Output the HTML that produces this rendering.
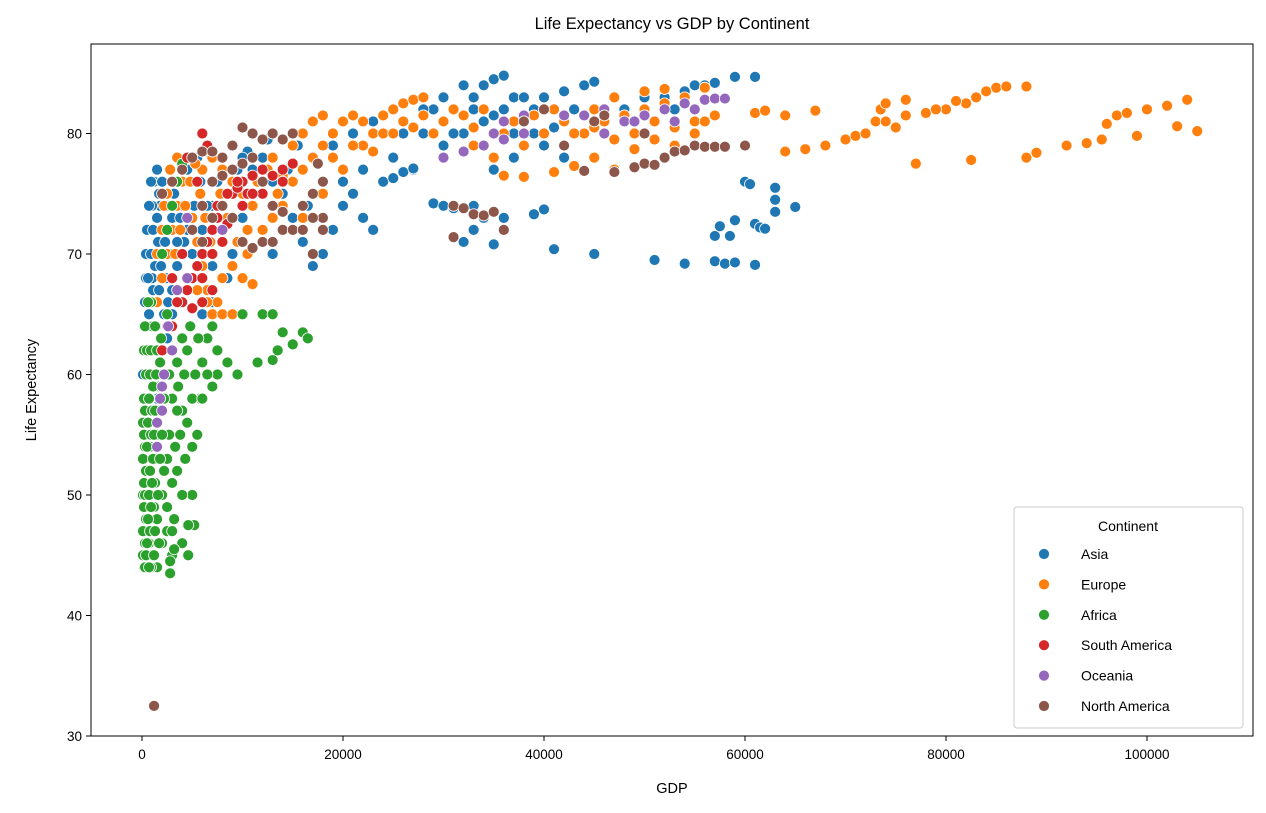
<!DOCTYPE html>
<html><head><meta charset="utf-8"><style>
body{margin:0;background:#fff;}
svg text{font-family:"Liberation Sans","DejaVu Sans",sans-serif;fill:#000;}
</style></head><body>
<svg id="chart" width="1266" height="808" xmlns="http://www.w3.org/2000/svg">
<rect width="1266" height="808" fill="#fff"/>
<text x="672" y="29" font-size="16.5" text-anchor="middle">Life Expectancy vs GDP by Continent</text>
<g id="marks"></g>
<rect x="91" y="44" width="1162" height="692" fill="none" stroke="#000" stroke-width="1"/>
<g id="axes"></g>
<text x="672" y="793" font-size="14.5" text-anchor="middle">GDP</text>
<text transform="translate(36,390) rotate(-90)" font-size="14.5" text-anchor="middle">Life Expectancy</text>
<g id="legend">
<rect x="1014" y="507" width="229" height="221" rx="3" fill="#fff" fill-opacity="0.8" stroke="#ccc"/>
<text x="1128" y="531" font-size="14" text-anchor="middle">Continent</text>
</g>
</svg>
<script>
const continents = ["Asia","Europe","Africa","South America","Oceania","North America"];
const colors = ["#1f77b4","#ff7f0e","#2ca02c","#d62728","#9467bd","#8c564b"];
const xTicks = [0,20000,40000,60000,80000,100000];
const yTicks = [30,40,50,60,70,80];
const asiaPoints = [[300,58],[500,60],[400,62],[600,64],[800,66],[1000,68],[1200,70],[900,72],[1500,73],[700,65],[1100,67],[1300,69],[1600,71],[2000,72],[1800,74],[2200,75],[2500,74],[3000,73],[2000,63],[2200,65],[1500,62],[2600,66],[2400,68],[2800,70],[1000,74],[1200,76],[1500,77],[2000,76],[3500,76],[4000,74],[4500,72],[5000,70],[5500,69],[6000,72],[7000,74],[7500,76],[8000,75],[9000,70],[8500,68],[7000,66],[6000,65],[10000,73],[11000,77],[12000,78],[13000,76],[14000,75],[15000,73],[16000,71],[17000,69],[18000,70],[19000,72],[20000,74],[21000,75],[22000,73],[23000,72],[17000,78],[19000,79],[21000,80],[23000,81],[25000,78],[27000,77],[28000,80],[29000,82],[30000,83],[31000,82],[32000,84],[33000,83],[34000,84],[35000,84.5],[36000,84.8],[30000,79],[32000,80],[34000,81],[36000,82],[37000,83],[38000,83],[39000,80],[40000,83],[42000,83.5],[44000,84],[45000,84.3],[40000,79],[42000,78],[44000,80],[46000,81],[48000,82],[50000,83],[52000,83],[54000,83.5],[56000,84],[57000,84.2],[59000,84.7],[61000,84.7],[29000,74.2],[30000,74],[31000,73.8],[32000,71],[33000,72],[34000,73],[35000,70.8],[36000,73],[33000,74],[39000,73.3],[40000,73.7],[41000,70.4],[45000,70],[51000,69.5],[54000,69.2],[57000,69.4],[58000,69.2],[59000,69.3],[61000,69.1],[57000,71.5],[57500,72.3],[58500,71.5],[59000,72.8],[60000,76],[60500,75.8],[61000,72.5],[61500,72.2],[62000,72.1],[63000,73.5],[63000,74.5],[63000,75.5],[65000,73.9],[24000,76],[25000,76.3],[26000,76.8],[27000,77.1],[35000,77],[37000,78],[1500,58],[1000,60],[2000,60],[100,60],[200,64],[500,66],[600,70],[400,68],[3000,67],[3500,69],[4500,77],[5500,78],[6500,78.5],[9500,77],[10500,78.5],[12500,79.5],[200,62],[300,66],[400,70],[500,72],[700,74],[900,76],[1100,72],[1300,66],[1400,64],[1700,67],[1900,69],[2100,70],[2300,71],[2700,72],[3200,75],[3800,73],[4200,71],[5200,74],[5800,76],[6500,74],[7000,69],[8000,72],[9000,77],[10000,78],[11000,74],[12000,72],[13000,70],[14500,77],[15500,79],[16500,74],[18000,72],[20000,76],[22000,77],[26000,80],[28000,82],[31000,80],[33000,82],[35000,81.5],[37000,80],[39000,82],[41000,80.5],[43000,82],[47000,83],[49000,81],[53000,82],[55000,84],[2500,63],[3000,65],[3500,71],[1200,64],[900,70],[1700,75],[600,68],[800,62]];
const europePoints = [[1500,66],[2000,68],[2500,70],[3000,72],[3500,74],[4000,76],[4500,78],[3000,76],[2500,75],[5000,73],[5500,71],[6000,69],[6500,67],[7000,65],[7500,66],[8000,68],[9000,69],[10000,68],[11000,67.5],[8000,65],[5000,65.5],[6000,77],[7000,78],[8000,77],[9000,76],[10000,75],[11000,74],[12000,72],[13000,73],[14000,74],[15000,76],[16000,77],[17000,78],[18000,79],[19000,80],[20000,81],[21000,81.5],[22000,81],[23000,80],[24000,81.5],[25000,82],[26000,82.5],[27000,82.8],[28000,83],[13000,78],[14000,76.5],[16000,73],[18000,75],[20000,77],[22000,79],[24000,80],[26000,81],[28000,81.5],[30000,81],[32000,81.5],[34000,82],[36000,80],[38000,79],[40000,80],[42000,81],[44000,80],[46000,81],[48000,81.5],[50000,82],[52000,82.5],[54000,83],[36000,76.5],[38000,76.4],[41000,76.8],[43000,77.3],[45000,78],[47000,77],[49000,78.7],[51000,79.5],[53000,80.5],[55000,81],[56000,81],[30000,78],[33000,79],[35000,78],[45000,82],[47000,83],[50000,83.5],[52000,83.7],[56000,83.8],[61000,81.7],[62000,81.9],[64000,78.5],[66000,78.7],[67000,81.9],[68000,79],[70000,79.5],[71000,79.8],[72000,80],[73000,81],[73500,82],[74000,82.5],[75000,80.5],[76000,82.8],[77000,77.5],[78000,81.7],[80000,82],[82000,82.5],[83000,83],[84000,83.5],[85000,83.8],[86000,83.9],[88000,83.9],[82500,77.8],[88000,78],[89000,78.4],[92000,79],[94000,79.2],[95500,79.5],[96000,80.8],[97000,81.5],[98000,81.7],[99000,79.8],[100000,82],[102000,82.3],[103000,80.6],[104000,82.8],[105000,80.2],[74000,81],[76000,81.5],[64000,81.5],[79000,82],[81000,82.7],[2000,72],[1500,70],[3500,78],[9000,65],[10500,70],[2200,74],[2800,77],[3300,70],[3800,72],[4300,74],[4800,76],[5300,77.5],[5800,75],[6300,73],[6800,71],[7300,73],[7800,75],[8500,73],[9500,71],[10500,72],[11500,76],[12500,77],[13500,75],[15000,79],[16000,80],[17000,81],[18000,81.5],[19000,78],[21000,79],[23000,78.5],[25000,80],[27000,80.5],[29000,80],[31000,82],[33000,80.5],[37000,81],[39000,81.5],[41000,82],[43000,80],[45000,80.5],[47000,79.5],[49000,80],[51000,81],[53000,79],[55000,80],[57000,81.5],[4000,70],[3000,68],[5500,67],[6500,66]];
const africaPoints = [[200,44],[300,46],[400,48],[500,50],[600,52],[300,54],[400,56],[500,58],[600,60],[700,62],[800,64],[900,66],[1000,45],[1100,47],[1200,49],[1300,51],[1400,53],[1500,55],[1600,57],[1700,59],[1800,61],[1900,63],[200,58],[300,62],[1000,55],[1200,60],[1500,44],[1500,48],[2000,50],[2500,53],[2800,43.5],[3000,45],[3200,48],[3500,52],[3800,55],[4000,57],[4200,60],[4500,62],[4800,64],[5000,50],[5200,47.5],[4600,45],[4600,47.5],[3000,58],[3500,61],[4000,63],[5500,55],[5800,58],[6000,61],[6500,63],[7000,64],[7000,59],[7500,60],[8500,61],[9500,60],[10000,65],[11500,61],[12000,65],[13000,61.2],[13500,62],[14000,63.5],[15000,62.5],[16000,63.5],[16500,63],[13000,65],[2000,70],[2500,72],[3000,74],[3500,76],[4000,77.5],[2500,65],[2200,58],[2700,55],[1000,62],[800,54],[100,50],[100,56],[200,62],[700,46],[900,44],[500,64],[800,58],[2000,46],[2500,47],[3000,51],[3500,57],[5000,58],[4000,50],[100,45],[100,47],[100,53],[200,49],[200,51],[200,55],[300,44],[300,50],[300,57],[400,45],[400,52],[400,60],[500,46],[500,54],[500,62],[600,48],[600,56],[700,44],[700,50],[700,58],[800,47],[800,52],[800,60],[900,49],[900,55],[900,62],[1000,51],[1000,57],[1000,64],[1100,53],[1100,59],[1200,45],[1200,55],[1300,47],[1300,57],[1400,60],[1500,62],[1600,50],[1700,46],[1800,53],[2000,55],[2200,52],[2500,49],[2700,60],[3000,47],[3000,62],[3300,54],[3600,59],[4000,46],[4300,53],[4500,56],[5000,54],[5300,60],[5600,63],[6000,58],[6500,60],[7500,62],[600,66],[300,64],[1300,64],[2800,44.5],[3200,45.5]];
const southAmericaPoints = [[2000,62],[3000,64],[4000,66],[5000,68],[6000,70],[7000,72],[8000,74],[9000,75],[10000,76],[11000,76.5],[12000,77],[13000,76.5],[14000,77],[15000,77.5],[6000,80],[5500,76],[7500,73],[8500,72.5],[9500,75.5],[10500,75],[4500,78],[6500,79],[5000,65.5],[6000,66],[7000,70],[8000,71],[9000,73],[12000,75],[13000,80],[3500,66],[4500,67],[5500,69],[6500,71],[7500,74],[8500,75],[9500,76],[10000,74],[11000,75],[14000,76],[2500,64],[3000,68],[4000,70],[6000,68],[7000,67]];
const oceaniaPoints = [[1500,56],[2000,59],[3000,62],[4500,68],[4500,73],[8000,72],[36000,81],[38000,81.5],[40000,82],[42000,81.5],[44000,81.5],[46000,82],[48000,81],[50000,81.5],[52000,82],[54000,82.5],[56000,82.8],[57000,82.9],[58000,82.9],[30000,78],[32000,78.5],[34000,79],[36000,79.5],[38000,80],[35000,80],[46000,80],[49000,81],[53000,81],[55000,82],[1800,58],[2200,60],[2600,64],[3500,67],[2000,57],[1500,54]];
const northAmericaPoints = [[1200,32.5],[2000,75],[3000,76],[4000,77],[5000,78],[6000,78.5],[7000,78.5],[8000,78],[9000,79],[10000,80.5],[11000,80],[12000,79.5],[13000,80],[14000,79.5],[15000,80],[8000,74],[9000,73],[10000,71],[11000,70.5],[12000,71],[13000,71],[14000,72],[15000,72],[16000,74],[17000,75],[18000,73],[17000,70],[18000,72],[7000,73],[6000,71],[31000,74],[32000,73.8],[33000,73.3],[34000,73.2],[35000,73.5],[31000,71.4],[36000,72],[44000,76.9],[47000,76.8],[49000,77.2],[50000,77.5],[51000,77.4],[52000,78],[53000,78.5],[54000,78.6],[55000,79],[56000,78.9],[57000,78.9],[58000,78.9],[60000,79],[45000,81],[40000,82],[50000,80],[42000,79],[38000,81],[46000,81.5],[5000,72],[6000,74],[7000,76],[8000,76.5],[9000,77],[10000,77.5],[11000,78],[12000,76],[13000,74],[14000,73.5],[16000,72],[17000,73],[18000,76],[17500,77.5]];
const seriesPoints = [asiaPoints,europePoints,africaPoints,southAmericaPoints,oceaniaPoints,northAmericaPoints];

const NS="http://www.w3.org/2000/svg";
function xs(v){return 142+(v/20000)*201;}
function ys(v){return 736-(v-30)*12.05;}
const marks=document.getElementById('marks');
seriesPoints.forEach((pts,si)=>{
  const g=document.createElementNS(NS,'g');
  
  
  pts.forEach(p=>{
    const c=document.createElementNS(NS,'circle');
    c.setAttribute('cx',xs(p[0]));c.setAttribute('cy',ys(p[1]));c.setAttribute('r',5.5);
    c.setAttribute('fill',colors[si]);c.setAttribute('stroke','#fff');c.setAttribute('stroke-width','0.8');
    
    
    g.appendChild(c);
  });
  marks.appendChild(g);
});
const axes=document.getElementById('axes');
xTicks.forEach(t=>{
  const l=document.createElementNS(NS,'line');
  l.setAttribute('x1',xs(t));l.setAttribute('x2',xs(t));l.setAttribute('y1',736);l.setAttribute('y2',741);l.setAttribute('stroke','#000');
  
  
  axes.appendChild(l);
  const tx=document.createElementNS(NS,'text');
  tx.setAttribute('x',xs(t));tx.setAttribute('y',759);tx.setAttribute('font-size','13.5');tx.setAttribute('text-anchor','middle');
  tx.textContent=t;
  
  
  axes.appendChild(tx);
});
yTicks.forEach(t=>{
  const l=document.createElementNS(NS,'line');
  l.setAttribute('x1',86);l.setAttribute('x2',91);l.setAttribute('y1',ys(t));l.setAttribute('y2',ys(t));l.setAttribute('stroke','#000');
  
  
  axes.appendChild(l);
  const tx=document.createElementNS(NS,'text');
  tx.setAttribute('x',82);tx.setAttribute('y',ys(t)+5);tx.setAttribute('font-size','13.5');tx.setAttribute('text-anchor','end');
  tx.textContent=t;
  
  
  axes.appendChild(tx);
});
const legend=document.getElementById('legend');
continents.forEach((name,i)=>{
  const y=554+i*30.4;
  const c=document.createElementNS(NS,'circle');
  c.setAttribute('cx',1044);c.setAttribute('cy',y);c.setAttribute('r',5.5);c.setAttribute('fill',colors[i]);c.setAttribute('stroke','#fff');c.setAttribute('stroke-width','0.8');
  
  
  legend.appendChild(c);
  const tx=document.createElementNS(NS,'text');
  tx.setAttribute('x',1081);tx.setAttribute('y',y+5);tx.setAttribute('font-size','14');
  tx.textContent=name;
  
  
  legend.appendChild(tx);
});
</script>
</body></html>
